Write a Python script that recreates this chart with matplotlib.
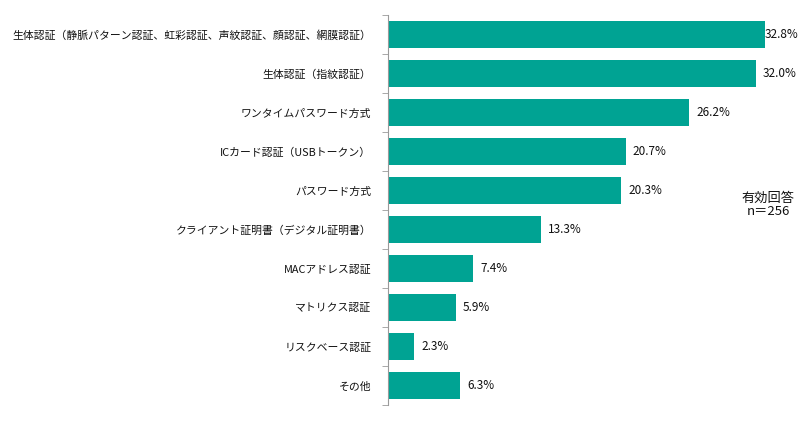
import numpy as np
import matplotlib.pyplot as plt

plt.rcParams['font.family'] = ['Noto Sans CJK JP', 'DejaVu Sans']

# 認証方式の利用状況（有効回答 n=256）
categories = [
    "生体認証（静脈パターン認証、虹彩認証、声紋認証、顔認証、網膜認証）",
    "生体認証（指紋認証）",
    "ワンタイムパスワード方式",
    "ICカード認証（USBトークン）",
    "パスワード方式",
    "クライアント証明書（デジタル証明書）",
    "MACアドレス認証",
    "マトリクス認証",
    "リスクベース認証",
    "その他",
]
values = [32.8, 32.0, 26.2, 20.7, 20.3, 13.3, 7.4, 5.9, 2.3, 6.3]
note = "有効回答\nn＝256"

color_bar = "#00A393"
color_axis = "#9a9a9a"

fig = plt.figure(figsize=(8, 4.25), dpi=100)
ax = fig.add_axes([388 / 800, 20 / 425, 1 - 388 / 800, 390 / 425])

y = np.arange(len(categories))
ax.barh(y, values, height=0.67, color=color_bar)

ax.set_ylim(len(categories) - 0.5, -0.5)
ax.set_xlim(0, 35.85)

# ラベル
ax.set_yticks(y)
ax.set_yticklabels(categories, fontsize=7.8, color="#111111")
ax.tick_params(axis='y', which='major', length=0, pad=12)
ax.set_yticks(np.arange(len(categories) + 1) - 0.5, minor=True)
ax.tick_params(axis='y', which='minor', length=4, color=color_axis, direction='out')
ax.set_xticks([])

for s in ['top', 'right', 'bottom']:
    ax.spines[s].set_visible(False)
ax.spines['left'].set_color(color_axis)

vmax = max(values)
for yi, v in zip(y, values):
    off = 0 if v == vmax else 5
    ax.annotate(f"{v:.1f}%", (v, yi), xytext=(off, 0), textcoords='offset points',
                va='center', ha='left', fontsize=8.5, color="#111111")

fig.text(768 / 800, 1 - 205 / 425, note, ha='center', va='center',
         fontsize=9.5, color="#111111", linespacing=1.0)

fig.savefig("out.png", dpi=100)
